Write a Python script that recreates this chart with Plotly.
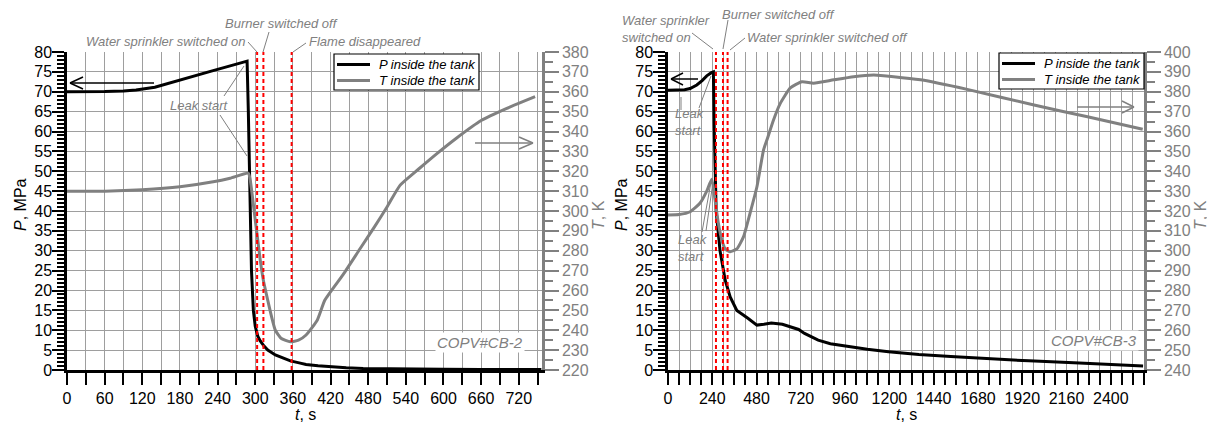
import plotly.graph_objects as go

# ---------------- data ----------------
# COPV#CB-2 (left panel)
t_cb2_p = [0, 30, 60, 90, 110, 140, 170, 200, 230, 260, 287, 289, 291, 294, 297, 300, 304, 308,
           314, 320, 332, 345, 356, 370, 381, 400, 417, 445, 472, 510, 540, 600, 660, 720, 756]
p_cb2 = [70.0, 70.0, 70.05, 70.2, 70.45, 71.15, 72.55, 73.9, 75.2, 76.5, 77.7, 65.0, 45.0, 25.0,
         15.0, 11.0, 8.5, 7.3, 6.0, 5.0, 3.8, 2.9, 2.3, 1.8, 1.4, 1.05, 0.8, 0.55, 0.4, 0.3, 0.3,
         0.22, 0.15, 0.12, 0.1]
t_cb2_T = [0, 60, 120, 180, 233, 260, 289, 292, 300, 308, 313, 320, 326, 332, 341, 356, 369, 381,
           399, 411, 440, 467, 490, 510, 531, 560, 590, 620, 660, 700, 746]
T_cb2 = [310.0, 310.0, 310.7, 312.2, 314.7, 316.5, 319.0, 315.6, 295.5, 275.3, 265.0, 255.0,
         246.8, 240.0, 236.0, 234.2, 235.0, 237.6, 245.2, 255.2, 268.0, 281.0, 292.0, 302.0,
         313.0, 321.0, 329.0, 336.5, 345.5, 351.5, 357.5]
events_cb2 = [303, 313, 358]

# COPV#CB-3 (right panel)
t_cb3_p = [0, 60, 90, 120, 156, 185, 210, 235, 246, 250, 255, 261, 282, 310, 337, 373, 433, 482,
           520, 560, 620, 666, 708, 740, 814, 880, 958, 1080, 1195, 1360, 1533, 1750, 1956, 2200,
           2400, 2575]
p_cb3 = [70.4, 70.4, 70.5, 70.8, 71.7, 72.8, 74.0, 74.8, 75.0, 62.0, 52.0, 40.0, 30.0, 22.6,
         18.4, 15.0, 13.0, 11.3, 11.5, 11.8, 11.5, 10.9, 10.2, 9.2, 7.5, 6.6, 6.0, 5.2, 4.6, 3.9,
         3.4, 2.8, 2.3, 1.8, 1.4, 1.0]
t_cb3_T = [0, 60, 120, 174, 210, 237, 255, 273, 292, 310, 337, 373, 409, 445, 482, 518, 536, 572,
           608, 663, 726, 789, 898, 1006, 1115, 1223, 1369, 1622, 1984, 2274, 2573]
T_cb3 = [318.0, 318.2, 319.6, 324.0, 330.0, 336.0, 325.6, 313.8, 305.4, 300.9, 299.5, 300.9,
         307.0, 319.0, 332.2, 350.7, 355.7, 365.8, 374.0, 381.9, 385.0, 384.3, 386.0, 387.6,
         388.4, 387.6, 386.0, 381.2, 373.3, 367.4, 361.1]
events_cb3 = [260, 298, 323]

names = ["P inside the tank", "T inside the tank"]

# ---------------- layout geometry ----------------
# the page body adds an 8 px offset, so the figure is 8 px smaller and coordinates are shifted
OFF = 8
W, H = 1215 - OFF, 423 - OFF
def PX(x):
    return (x - OFF) / W
def PY(y):
    return 1 - (y - OFF) / H

BLACK = "#000000"
GREY = "#808080"
GRID = "#9e9e9e"
RED = "#ff0000"
FONT = "Liberation Sans"

fig = go.Figure()

fig.add_trace(go.Scatter(x=t_cb2_p, y=p_cb2, mode="lines", name=names[0], showlegend=False,
                         line=dict(color=BLACK, width=3), xaxis="x", yaxis="y"))
fig.add_trace(go.Scatter(x=t_cb2_T, y=T_cb2, mode="lines", name=names[1], showlegend=False,
                         line=dict(color=GREY, width=3, shape="spline", smoothing=0.5),
                         xaxis="x", yaxis="y2"))
fig.add_trace(go.Scatter(x=t_cb3_p, y=p_cb3, mode="lines", name=names[0], showlegend=False,
                         line=dict(color=BLACK, width=3), xaxis="x2", yaxis="y3"))
fig.add_trace(go.Scatter(x=t_cb3_T, y=T_cb3, mode="lines", name=names[1], showlegend=False,
                         line=dict(color=GREY, width=3, shape="spline", smoothing=0.5),
                         xaxis="x2", yaxis="y4"))

dom_y = [PY(370), PY(52)]
TICK_SIZE = 16
tickfont_b = dict(family=FONT, size=TICK_SIZE, color=BLACK)
tickfont_g = dict(family=FONT, size=TICK_SIZE, color=GREY)


def xaxis_cfg(domain, rng, dtick, minor_dtick, anchor):
    return dict(domain=domain, range=rng, anchor=anchor, tickmode="linear", tick0=0, dtick=dtick,
                automargin=False,
                ticks="outside", ticklen=12, tickwidth=2, tickcolor=BLACK,
                showline=True, linecolor=BLACK, linewidth=2.5,
                showgrid=True, gridcolor=GRID, gridwidth=1.2, zeroline=False,
                tickfont=tickfont_b,
                minor=dict(dtick=minor_dtick, tick0=0, ticks="outside", ticklen=12, tickwidth=2,
                           tickcolor=BLACK, showgrid=True, gridcolor=GRID, gridwidth=1.2))


def p_axis_cfg(anchor):
    return dict(domain=dom_y, range=[0, 80], anchor=anchor, tickmode="linear", tick0=0, dtick=5,
                automargin=False, ticklabelstandoff=-3,
                ticks="outside", ticklen=12, tickwidth=2, tickcolor=BLACK,
                showline=True, linecolor=BLACK, linewidth=2.5,
                showgrid=True, gridcolor=GRID, gridwidth=1.2, zeroline=False,
                tickfont=tickfont_b,
                minor=dict(dtick=1, tick0=0, ticks="outside", ticklen=7, tickwidth=1.5,
                           tickcolor=BLACK, showgrid=False))


def t_axis_cfg(overlay, anchor, rng):
    return dict(overlaying=overlay, side="right", anchor=anchor, range=rng, tickmode="linear",
                automargin=False,
                tick0=rng[0], dtick=10, ticks="outside", ticklen=14, tickwidth=2, tickcolor=GREY,
                showline=True, linecolor=GREY, linewidth=2.5, showgrid=False, zeroline=False,
                tickfont=tickfont_g,
                minor=dict(dtick=5, tick0=rng[0], ticks="outside", ticklen=8, tickwidth=1.5,
                           tickcolor=GREY, showgrid=False))


fig.update_layout(
    width=W, height=H, margin=dict(l=0, r=0, t=0, b=0, autoexpand=False),
    paper_bgcolor="white", plot_bgcolor="white",
    font=dict(family=FONT, size=15, color=BLACK),
    xaxis=xaxis_cfg([PX(67), PX(542)], [0, 757], 60, 30, "y"),
    yaxis=p_axis_cfg("x"),
    yaxis2=t_axis_cfg("y", "x", [220, 380]),
    xaxis2=xaxis_cfg([PX(668), PX(1144)], [0, 2580], 240, 60, "y3"),
    yaxis3=p_axis_cfg("x2"),
    yaxis4=t_axis_cfg("y3", "x2", [240, 400]),
    showlegend=False,
)

# event lines (red dashed)
for ev in events_cb2:
    fig.add_shape(type="line", xref="x", yref="y domain", x0=ev, x1=ev, y0=0, y1=1,
                  line=dict(color=RED, width=2, dash="4px,3px"))
for ev in events_cb3:
    fig.add_shape(type="line", xref="x2", yref="y3 domain", x0=ev, x1=ev, y0=0, y1=1,
                  line=dict(color=RED, width=2, dash="4px,3px"))

# ---------------- annotation decorations (pixel layout) ----------------
def seg(x0, y0, x1, y1, color=GREY, width=1):
    fig.add_shape(type="line", xref="paper", yref="paper", x0=PX(x0), y0=PY(y0),
                  x1=PX(x1), y1=PY(y1), line=dict(color=color, width=width))


def label(text, x, y, xanchor="center", size=13, color=GREY, bg=None, align="center",
          italic=True, angle=0):
    fig.add_annotation(text=text, xref="paper", yref="paper", x=PX(x), y=PY(y),
                       xanchor=xanchor, yanchor="middle", showarrow=False, align=align,
                       textangle=angle,
                       font=dict(family=FONT, size=size, color=color,
                                 style="italic" if italic else "normal"),
                       bgcolor=bg, borderpad=1)


def arrow(x0, x1, y, color, head):
    seg(x0, y, x1, y, color, 1.5)
    d = head if x1 > x0 else -head
    seg(x1 - d, y - 6, x1, y, color, 1.5)
    seg(x1 - d, y + 6, x1, y, color, 1.5)


def legend_box(x0, y0, x1, y1):
    fig.add_shape(type="rect", xref="paper", yref="paper", x0=PX(x0), y0=PY(y0),
                  x1=PX(x1), y1=PY(y1), line=dict(color=BLACK, width=1.2), fillcolor="white")
    rows = [(y0 + 10.5, BLACK, names[0]), (y0 + 26.5, GREY, names[1])]
    for yy, col, nm in rows:
        seg(x0 + 3, yy, x0 + 36, yy, col, 3)
        label(nm, x0 + 43, yy, xanchor="left", size=13, color=BLACK)


# axis titles
for xc in (20, 621):
    label("<i>P</i>, MPa", xc, 205, size=16, color=BLACK, italic=False, angle=-90)
for xc in (598, 1200):
    label("<i>T</i>, K", xc, 215, size=16, color=GREY, italic=False, angle=-90)
for xc in (305, 906):
    label("<i>t</i>, s", xc, 414, size=16, color=BLACK, italic=False)

# left panel
legend_box(334, 54, 479, 90)
label("Water sprinkler switched on", 247, 41, xanchor="right")
seg(248, 42, 257, 52)
label("Burner switched off", 281, 24)
seg(269, 32, 263, 52)
label("Flame disappeared", 307, 42, xanchor="left")
seg(306, 43, 293, 52)
label("Leak start", 199, 105)
seg(224, 96, 244, 66)
seg(220, 115, 247, 156)
label("COPV#CB-2", 480, 342, size=15, bg="white")
arrow(154, 70, 83, BLACK, 13)
arrow(475, 533, 143, GREY, 14)

# right panel
legend_box(999, 53, 1144, 89)
label("Water sprinkler<br>switched on", 620, 29, xanchor="left", align="left")
seg(692, 33, 713, 49)
label("Burner switched off", 778, 15)
seg(728, 20, 723, 49)
label("Water sprinkler switched off", 745, 37, xanchor="left")
seg(745, 38, 730, 50)
label("Leak<br>start", 673, 122, xanchor="left", align="left")
seg(699, 108, 711, 76)
seg(681, 110, 681, 97)
label("Leak<br>start", 676, 248, xanchor="left", align="left")
seg(702, 232, 711, 182)
seg(706, 231, 713, 182)
label("COPV#CB-3", 1094, 340, size=15, bg="white")
arrow(698, 671, 79, BLACK, 12)
arrow(1077, 1134, 107, GREY, 12)

fig.write_html("out.html")
